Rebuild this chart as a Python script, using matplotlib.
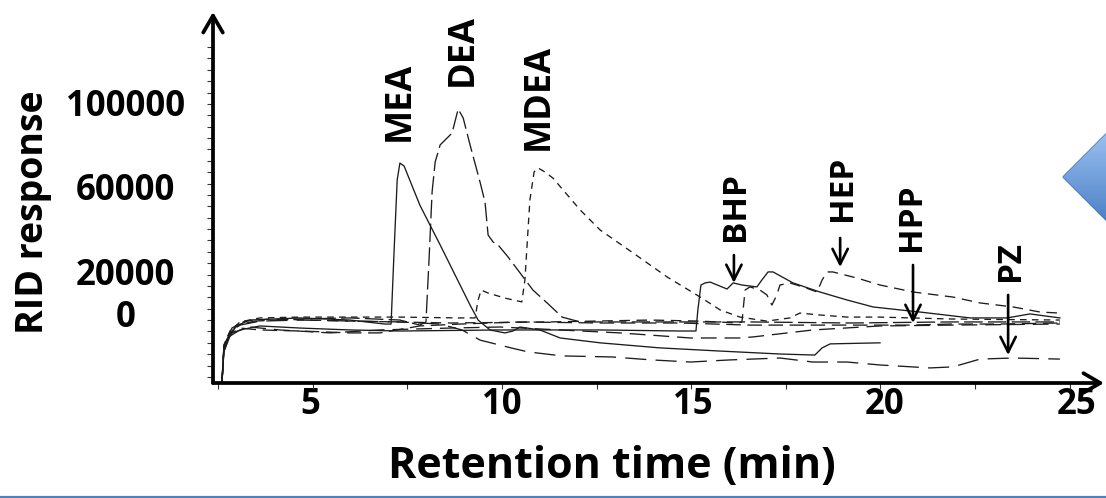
import numpy as np
import matplotlib
matplotlib.use('Agg')
import matplotlib.pyplot as plt
from matplotlib.patches import Polygon
from matplotlib.ticker import FixedLocator

# ---------------- data ----------------
x_tick_values = [5, 10, 15, 20, 25]
y_tick_values = [0, 20000, 60000, 100000]
y_tick_labels = ['0', '20000', '60000', '100000']

mea_t = [2.71, 2.76, 2.87, 3.08, 3.44, 4.75, 6.05, 6.96, 7.12, 7.20, 7.28, 7.35, 7.46, 7.87, 8.40, 8.92,
         9.18, 9.39, 9.70, 10.09, 10.30, 10.48, 11.00, 11.53, 12.57, 14.13, 15.70, 17.26, 18.17, 18.36, 18.57, 19.87]
mea_v = [-32900, -18200, -11600, -5900, -3100, -2100, -3100, -5000, -5000, 30100, 63300, 71300, 69900, 51400, 32500, 13500,
         4000, -3100, -7800, -9200, -8300, -6400, -7800, -11600, -13900, -16300, -17800, -19200, -19700, -16300, -14400, -13900]

dea_t = [2.71, 2.76, 2.89, 3.13, 3.57, 4.75, 6.05, 7.35, 7.87, 8.03, 8.11, 8.19, 8.27, 8.40, 8.71, 8.87, 9.00,
         9.18, 9.44, 9.57, 9.65, 9.78, 9.91, 10.17, 10.82, 11.19, 11.58, 12.05, 13.87, 16.48, 19.09, 21.70, 24.56]
dea_v = [-32900, -16400, -9700, -5500, -3600, -2600, -2100, -3100, -5500, -4000, 25400, 57600, 71800, 79900, 85500, 96900, 92700,
         79900, 62300, 52800, 37200, 33900, 32500, 26800, 11100, 5000, -1700, -4000, -4000, -4000, -4500, -4000, -4000]

mdea_t = [2.71, 2.76, 2.92, 3.18, 3.70, 4.75, 7.35, 8.92, 9.31, 9.39, 9.47, 9.65, 10.09, 10.53, 10.61, 10.74, 10.85, 10.95,
          11.13, 11.34, 12.05, 12.57, 13.43, 14.32, 15.18, 15.70, 16.22, 16.92, 17.52, 17.78, 18.30, 19.01, 19.87, 21.70, 24.56]
mdea_v = [-32900, -14900, -8300, -4000, -2100, -1700, -1700, -2100, -2100, 6400, 11100, 9700, 7300, 5500, 15900, 53800, 67100, 69000,
          67100, 64200, 49100, 39600, 28700, 17300, 7800, 1700, -1700, -3600, -2100, 200, -700, -1700, -1700, -2600, -3100]

bhp_t = [2.71, 2.76, 2.92, 3.18, 3.70, 4.75, 6.05, 7.35, 9.96, 12.57, 14.65, 15.07, 15.12, 15.20, 15.31, 15.44, 15.88,
         16.04, 16.27, 16.66, 16.79, 16.95, 17.08, 17.60, 18.30, 19.01, 19.69, 20.39, 20.91, 22.22, 23.18, 23.78, 24.56]
bhp_v = [-32900, -18200, -10700, -7800, -5900, -6900, -7800, -8300, -7800, -7800, -8300, -8300, 1700, 13500, 14500, 14900, 11600,
         14500, 13500, 12600, 15900, 19700, 19700, 14500, 10200, 6400, 3100, 1700, 700, -2100, -2100, -200, -2100]

hep_t = [2.71, 2.76, 2.97, 3.31, 3.96, 6.05, 8.66, 11.26, 13.87, 15.18, 16.17, 16.27, 16.35, 16.48, 16.74, 16.92, 17.05,
         17.18, 17.26, 17.52, 17.86, 18.23, 18.36, 18.49, 18.64, 19.27, 19.87, 20.73, 21.77, 22.48, 23.34, 24.04, 24.56]
hep_v = [-32900, -15400, -6900, -3600, -2600, -3600, -4500, -4000, -3100, -3600, -4500, -4000, 11100, 12600, 11100, 8800, 4000,
         8800, 13500, 14500, 12600, 10200, 15900, 19700, 19700, 16800, 13500, 10200, 7800, 5000, 3100, 700, 200]

hpp_t = [2.71, 2.76, 2.92, 3.18, 3.70, 4.75, 6.05, 6.83, 7.87, 8.92, 10.48, 12.57, 14.65, 16.48, 17.78, 19.09, 20.70,
         21.70, 23.00, 24.56]
hpp_v = [-32900, -17300, -9700, -6900, -7800, -8300, -9200, -9200, -5900, -5000, -4000, -4500, -4500, -5500, -5500, -5500, -5500,
         -5000, -5000, -4500]

pz_t = [2.71, 2.76, 2.92, 3.18, 3.70, 4.75, 7.35, 8.40, 8.97, 9.44, 10.27, 10.69, 11.58, 12.88, 13.92, 14.92, 15.96,
        17.26, 18.12, 19.01, 19.87, 21.17, 21.77, 22.48, 23.34, 24.56]
pz_v = [-32900, -15900, -8800, -5500, -3600, -3100, -4000, -5000, -7800, -12600, -16400, -18200, -20100, -20600, -22000, -23000, -22000,
        -21100, -23000, -23000, -24400, -25800, -25300, -21600, -21100, -21600]

blank_t = [2.71, 2.76, 2.97, 3.44, 4.22, 5.53, 6.83, 8.66, 9.96, 11.53, 13.09, 14.92, 16.22, 16.56, 18.12, 19.87, 21.70, 24.56]
blank_v = [-32900, -16800, -9200, -6400, -7800, -9200, -7800, -6900, -6400, -7800, -9200, -11600, -11600, -11100, -7800, -5900, -5500, -5000]

peak_names = ['MEA', 'DEA', 'MDEA', 'BHP', 'HEP', 'HPP', 'PZ']
peak_label_t = [7.35, 9.00, 10.98, 16.09, 18.90, 20.70, 23.26]
peak_label_v = [100500, 124900, 102600, 50500, 59500, 45700, 24900]

arrow_t = [16.06, 18.83, 20.73, 23.21]
arrow_from_v = [27700, 35800, 23000, 8800]
arrow_to_v = [14500, 22000, -4500, -19700]

# ---------------- figure ----------------
W, H = 1106, 498
fig = plt.figure(figsize=(W / 100, H / 100), dpi=100)
FONT = 'Open Sans'
plt.rcParams['font.family'] = [FONT, 'DejaVu Sans']

x0, x1 = 213, 1104
y0, y1 = 383, 12
ax = fig.add_axes([x0 / W, 1 - y0 / H, (x1 - x0) / W, (y0 - y1) / H])
ax.set_xlim(2.477, 25.71)
ax.set_ylim(-32940, 142900)
for s in ax.spines.values():
    s.set_visible(False)
ax.patch.set_alpha(0)

lc = '#1c1c1c'
lw = 0.95
traces = [
    (mea_t, mea_v, None),
    (dea_t, dea_v, (14, 4)),
    (mdea_t, mdea_v, (5, 4)),
    (bhp_t, bhp_v, None),
    (hep_t, hep_v, (8, 5)),
    (hpp_t, hpp_v, (11, 5)),
    (pz_t, pz_v, (16, 7)),
    (blank_t, blank_v, (12, 6)),
]
for t, v, d in traces:
    if d is None:
        ax.plot(t, v, color=lc, lw=lw, solid_joinstyle='round')
    else:
        ax.plot(t, v, color=lc, lw=lw, dashes=d)

# axes with arrow heads
aw = dict(arrowstyle='->,head_length=0.55,head_width=0.32', lw=2.7, color='black',
          shrinkA=0, shrinkB=0, mutation_scale=22)
ax.annotate('', xy=(1, 0), xytext=(0, 0), xycoords='axes fraction', arrowprops=aw, annotation_clip=False)
ax.annotate('', xy=(0, 1), xytext=(0, 0), xycoords='axes fraction', arrowprops=aw, annotation_clip=False)

# ticks
ax.set_xticks(x_tick_values)
ax.set_xticklabels([str(v) for v in x_tick_values])
ax.xaxis.set_minor_locator(FixedLocator(2.61 + 2.467 * np.arange(10)))
ax.set_yticks(y_tick_values)
ax.set_yticklabels(y_tick_labels)
ax.yaxis.set_minor_locator(FixedLocator(np.linspace(-30100, 126300, 30)))
ax.tick_params(axis='both', which='major', length=0)
ax.tick_params(axis='x', which='major', pad=3)
ax.tick_params(axis='y', which='major', pad=63)
ax.tick_params(axis='both', which='minor', length=4, width=0.8, direction='out', color='#333333')
for lab in ax.get_xticklabels() + ax.get_yticklabels():
    lab.set_fontfamily(FONT)
    lab.set_fontweight('bold')
    lab.set_fontsize(25)
for lab in ax.get_yticklabels():
    lab.set_horizontalalignment('center')

# peak labels
for i, (name, t, v) in enumerate(zip(peak_names, peak_label_t, peak_label_v)):
    size = 26 if i < 3 else 24
    ax.text(t, v, name, rotation=90, ha='center', va='center', fontsize=size,
            fontweight='bold', fontfamily=FONT, color='black')

ap = dict(arrowstyle='->,head_length=0.5,head_width=0.25', lw=1.9, color='black',
          shrinkA=0, shrinkB=0, mutation_scale=22)
for t, a, b in zip(arrow_t, arrow_from_v, arrow_to_v):
    ax.annotate('', xy=(t, b), xytext=(t, a), arrowprops=ap)

# axis titles
fig.text(33 / W, 1 - 212 / H, 'RID response', rotation=90, ha='center', va='center',
         fontsize=27, fontweight='bold', fontfamily=FONT)
fig.text(612 / W, 1 - 466 / H, 'Retention time (min)', ha='center', va='center',
         fontsize=31, fontweight='bold', fontfamily=FONT)

# overlay decorations (pixel coordinates)
ov = fig.add_axes([0, 0, 1, 1], zorder=5)
ov.set_xlim(0, W)
ov.set_ylim(H, 0)
ov.axis('off')
ov.patch.set_alpha(0)
poly = Polygon([(1063, 177), (1108, 132), (1108, 222)], closed=True, facecolor='none',
               edgecolor='#3a6aaa', lw=1.0)
ov.add_patch(poly)
grad = np.linspace(0, 1, 100)[:, None]
cmap = matplotlib.colors.LinearSegmentedColormap.from_list('b', ['#9cc2f2', '#4a7fc4'])
im = ov.imshow(grad, extent=[1060, 1110, 224, 130], cmap=cmap, aspect='auto', zorder=1)
im.set_clip_path(poly)
ov.plot([0, W], [496.5, 496.5], color='#4f81bd', lw=1.6, solid_capstyle='butt')

fig.savefig('out.png', dpi=100)
